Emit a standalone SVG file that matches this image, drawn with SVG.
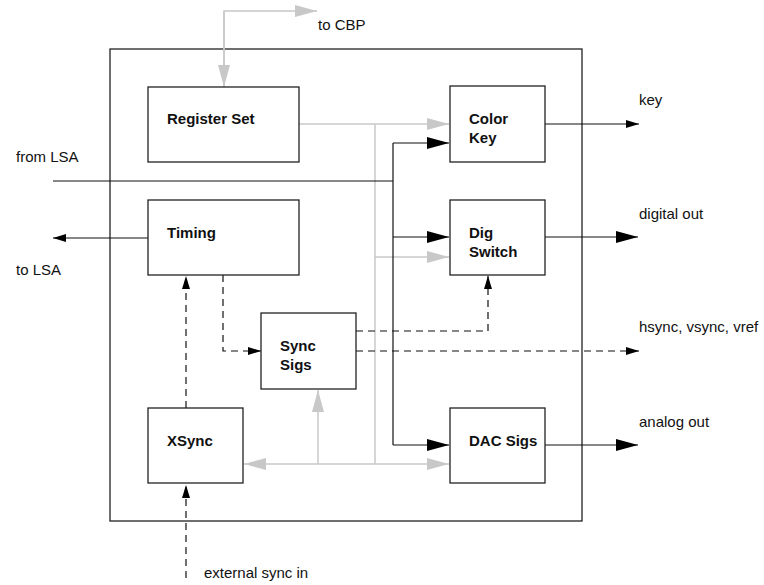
<svg xmlns="http://www.w3.org/2000/svg" width="764" height="585" viewBox="0 0 764 585">
<style>
.box{fill:#fff;stroke:#222;stroke-width:1.3}
.lbl{font-family:"Liberation Sans",Arial,sans-serif;font-size:15px;font-weight:bold;fill:#111}
.txt{font-family:"Liberation Sans",Arial,sans-serif;font-size:15px;fill:#111}
.blk{fill:none;stroke:#111;stroke-width:1.2}
.gry{fill:none;stroke:#c8c8c8;stroke-width:1.5}
.dsh{fill:none;stroke:#111;stroke-width:1.2;stroke-dasharray:7,5}
</style>
<defs>
<marker id="bigB" markerWidth="22" markerHeight="12" refX="22" refY="6" orient="auto" markerUnits="userSpaceOnUse"><path d="M0,0 L22,6 L0,12 Z" fill="#000"/></marker>
<marker id="smB" markerWidth="13" markerHeight="8" refX="13" refY="4" orient="auto" markerUnits="userSpaceOnUse"><path d="M0,0 L13,4 L0,8 Z" fill="#000"/></marker>
<marker id="bigG" markerWidth="22" markerHeight="12" refX="22" refY="6" orient="auto" markerUnits="userSpaceOnUse"><path d="M0,0 L22,6 L0,12 Z" fill="#c8c8c8"/></marker>
<marker id="bigGs" markerWidth="22" markerHeight="12" refX="0" refY="6" orient="auto" markerUnits="userSpaceOnUse"><path d="M22,0 L0,6 L22,12 Z" fill="#c8c8c8"/></marker>
</defs>
<rect width="764" height="585" fill="#fff"/>
<g id="outer"><rect x="110" y="49" width="472" height="472" fill="none" stroke="#222" stroke-width="1.3"/></g>
<g id="connectors">
<!-- gray bus -->
<path class="gry" d="M224,87 V11 H317" marker-end="url(#bigG)"/>
<path class="gry" d="M224,11 V87" marker-end="url(#bigG)"/>
<path class="gry" d="M299,124 H449" marker-end="url(#bigG)"/>
<path class="gry" d="M375,124 V464"/>
<path class="gry" d="M375,257 H449" marker-end="url(#bigG)"/>
<path class="gry" d="M244,464 H449" marker-start="url(#bigGs)" marker-end="url(#bigG)"/>
<path class="gry" d="M318,464 V390" marker-end="url(#bigG)"/>
<!-- black from LSA -->
<path class="blk" d="M53,181 H393"/>
<path class="blk" d="M393,143 V445"/>
<path class="blk" d="M393,143 H449" marker-end="url(#bigB)"/>
<path class="blk" d="M393,237 H449" marker-end="url(#bigB)"/>
<path class="blk" d="M393,445 H449" marker-end="url(#bigB)"/>
<!-- outputs -->
<path class="blk" d="M545,124 H639" marker-end="url(#smB)"/>
<path class="blk" d="M545,237 H638" marker-end="url(#bigB)"/>
<path class="blk" d="M545,445 H638" marker-end="url(#bigB)"/>
<path class="blk" d="M148,238 H53" marker-end="url(#smB)"/>
<!-- dashed -->
<path class="dsh" d="M186,408 V276" marker-end="url(#smB)"/>
<path class="dsh" d="M223,275 V351 H261" marker-end="url(#smB)"/>
<path class="dsh" d="M356,331 H488 V276" marker-end="url(#smB)"/>
<path class="dsh" d="M356,351 H639" marker-end="url(#smB)"/>
<path class="dsh" d="M186,578 V485" marker-end="url(#smB)"/>
</g>
<g id="register-set"><rect class="box" x="148" y="87" width="151" height="75"/><text class="lbl" x="167" y="124">Register Set</text></g>
<g id="timing"><rect class="box" x="148" y="200" width="151" height="75"/><text class="lbl" x="167" y="238">Timing</text></g>
<g id="color-key"><rect class="box" x="450" y="86" width="95" height="76"/><text class="lbl" x="469" y="124">Color</text><text class="lbl" x="469" y="143">Key</text></g>
<g id="dig-switch"><rect class="box" x="450" y="200" width="95" height="75"/><text class="lbl" x="469" y="238">Dig</text><text class="lbl" x="469" y="257">Switch</text></g>
<g id="sync-sigs"><rect class="box" x="261" y="313" width="95" height="76"/><text class="lbl" x="280" y="351">Sync</text><text class="lbl" x="280" y="370">Sigs</text></g>
<g id="xsync"><rect class="box" x="148" y="408" width="95" height="75"/><text class="lbl" x="167" y="446">XSync</text></g>
<g id="dac-sigs"><rect class="box" x="450" y="408" width="95" height="75"/><text class="lbl" x="469" y="446">DAC Sigs</text></g>
<g id="labels">
<text class="txt" x="318" y="30">to CBP</text>
<text class="txt" x="16" y="162">from LSA</text>
<text class="txt" x="16" y="275">to LSA</text>
<text class="txt" x="639" y="105">key</text>
<text class="txt" x="639" y="219">digital out</text>
<text class="txt" x="639" y="332">hsync, vsync, vref</text>
<text class="txt" x="639" y="427">analog out</text>
<text class="txt" x="204" y="578">external sync in</text>
</g>
</svg>
